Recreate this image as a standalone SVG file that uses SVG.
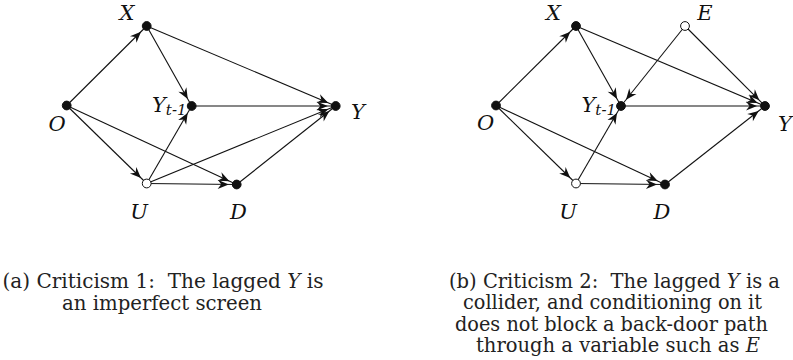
<svg xmlns="http://www.w3.org/2000/svg" width="793" height="360" viewBox="0 0 793 360">
<style>
.e{stroke:#111;stroke-width:1.1;fill:none;marker-end:url(#ah)}
.n{fill:#111;stroke:#111;stroke-width:1}
.h{fill:#fff;stroke:#111;stroke-width:1}
.lb{font-family:"DejaVu Serif","Liberation Serif",serif;font-style:italic;font-size:21px;fill:#111;text-anchor:middle}
.sub{font-size:15px}
.cap{font-family:"DejaVu Serif","Liberation Serif",serif;font-size:19.5px;fill:#222;text-anchor:middle}
.it{font-style:italic}
</style>
<defs>
<marker id="ah" markerUnits="userSpaceOnUse" orient="auto" refX="8" refY="0" markerWidth="20" markerHeight="20" overflow="visible">
<path d="M0,0 L-11,-4.6 L-7.5,0 L-11,4.6 Z" fill="#111"/>
</marker>
</defs>
<g id="connectors">
<line class="e" x1="66.7" y1="105.5" x2="146.7" y2="26"/>
<line class="e" x1="66.7" y1="105.5" x2="146.7" y2="183.5"/>
<line class="e" x1="66.7" y1="105.5" x2="236.7" y2="184.5"/>
<line class="e" x1="146.7" y1="26" x2="191.7" y2="106"/>
<line class="e" x1="146.7" y1="26" x2="335.7" y2="106"/>
<line class="e" x1="191.7" y1="106" x2="335.7" y2="106"/>
<line class="e" x1="146.7" y1="183.5" x2="191.7" y2="106"/>
<line class="e" x1="146.7" y1="183.5" x2="335.7" y2="106"/>
<line class="e" x1="146.7" y1="183.5" x2="236.7" y2="184.5"/>
<line class="e" x1="236.7" y1="184.5" x2="335.7" y2="106"/>
<line class="e" x1="496" y1="105.5" x2="576" y2="26"/>
<line class="e" x1="496" y1="105.5" x2="576" y2="183.5"/>
<line class="e" x1="496" y1="105.5" x2="665" y2="184.5"/>
<line class="e" x1="576" y1="26" x2="621" y2="106"/>
<line class="e" x1="576" y1="26" x2="765" y2="106"/>
<line class="e" x1="685" y1="26" x2="621" y2="106"/>
<line class="e" x1="685" y1="26" x2="765" y2="106"/>
<line class="e" x1="621" y1="106" x2="765" y2="106"/>
<line class="e" x1="576" y1="183.5" x2="621" y2="106"/>
<line class="e" x1="576" y1="183.5" x2="665" y2="184.5"/>
<line class="e" x1="665" y1="184.5" x2="765" y2="106"/>
</g>
<g id="a-X"><circle class="n" cx="146.7" cy="26" r="4.4"/><text class="lb" x="127" y="20">X</text></g>
<g id="a-O"><circle class="n" cx="66.7" cy="105.5" r="4.4"/><text class="lb" x="57" y="131">O</text></g>
<g id="a-Yt1"><circle class="n" cx="191.7" cy="106" r="4.4"/><text class="lb" x="186.5" y="112" style="text-anchor:end">Y<tspan class="sub" dy="3">t-1</tspan></text></g>
<g id="a-Y"><circle class="n" cx="335.7" cy="106" r="4.4"/><text class="lb" x="358" y="119">Y</text></g>
<g id="a-U"><circle class="h" cx="146.7" cy="183.5" r="4.4"/><text class="lb" x="139" y="219">U</text></g>
<g id="a-D"><circle class="n" cx="236.7" cy="184.5" r="4.4"/><text class="lb" x="238.5" y="219">D</text></g>
<g id="b-X"><circle class="n" cx="576" cy="26" r="4.4"/><text class="lb" x="553.5" y="20">X</text></g>
<g id="b-E"><circle class="h" cx="685" cy="26" r="4.4"/><text class="lb" x="705" y="20">E</text></g>
<g id="b-O"><circle class="n" cx="496" cy="105.5" r="4.4"/><text class="lb" x="485.5" y="130">O</text></g>
<g id="b-Yt1"><circle class="n" cx="621" cy="106" r="4.4"/><text class="lb" x="616" y="112" style="text-anchor:end">Y<tspan class="sub" dy="3">t-1</tspan></text></g>
<g id="b-Y"><circle class="n" cx="765" cy="106" r="4.4"/><text class="lb" x="785" y="131">Y</text></g>
<g id="b-U"><circle class="h" cx="576" cy="183.5" r="4.4"/><text class="lb" x="568" y="219">U</text></g>
<g id="b-D"><circle class="n" cx="665" cy="184.5" r="4.4"/><text class="lb" x="662" y="219">D</text></g>
<g id="captions">
<text class="cap" x="163" y="288" xml:space="preserve" textLength="321" lengthAdjust="spacingAndGlyphs">(a) Criticism 1:  The lagged <tspan class="it">Y</tspan> is</text>
<text class="cap" x="162" y="309.5" textLength="200" lengthAdjust="spacingAndGlyphs">an imperfect screen</text>
<text class="cap" x="614.5" y="287.5" xml:space="preserve" textLength="331" lengthAdjust="spacingAndGlyphs">(b) Criticism 2:  The lagged <tspan class="it">Y</tspan> is a</text>
<text class="cap" x="612.5" y="309" textLength="299" lengthAdjust="spacingAndGlyphs">collider, and conditioning on it</text>
<text class="cap" x="611.5" y="330.5" textLength="313" lengthAdjust="spacingAndGlyphs">does not block a back-door path</text>
<text class="cap" x="618" y="352" textLength="284" lengthAdjust="spacingAndGlyphs">through a variable such as <tspan class="it">E</tspan></text>
</g>
</svg>
